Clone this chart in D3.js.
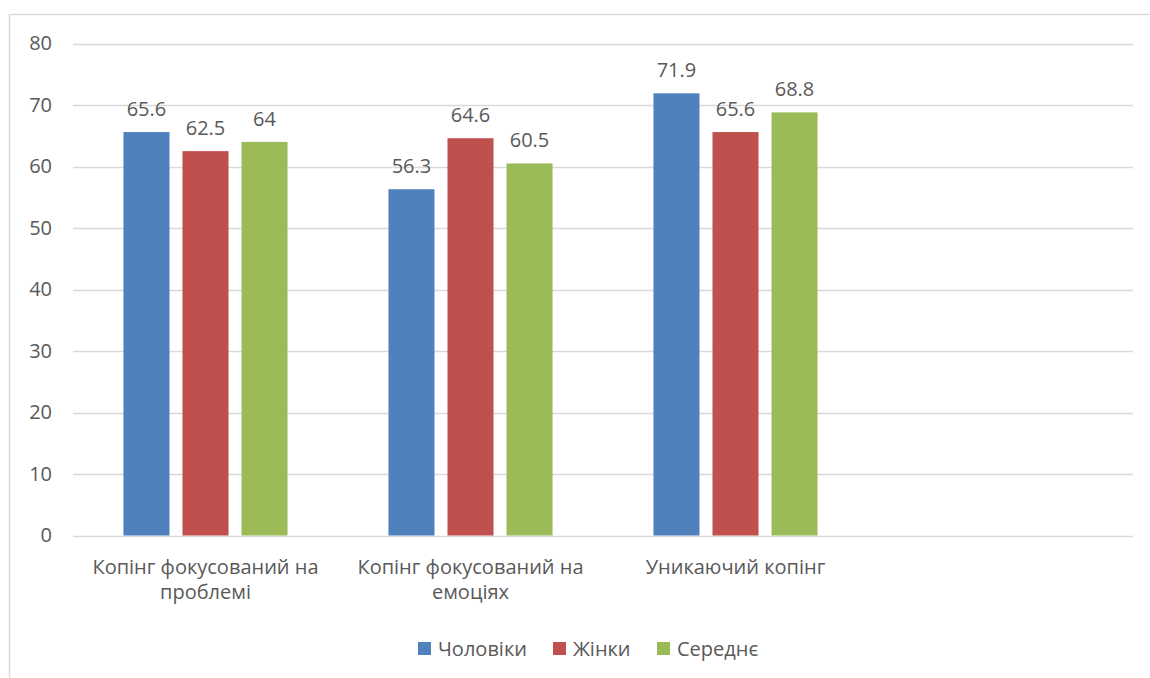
<!DOCTYPE html>
<html>
<head>
<meta charset="utf-8">
<script src="https://cdn.jsdelivr.net/npm/d3@7"></script>
<style>
  body { margin: 0; background: #fff; }
  text { font-family: "Open Sans", sans-serif; fill: #595959; }
</style>
</head>
<body>
<svg id="chart" width="1150" height="678"></svg>
<script>
// chart data
const categories = ["Копінг фокусований на проблемі", "Копінг фокусований на емоціях", "Уникаючий копінг", ""];
const tickLabels = [["Копінг фокусований на", "проблемі"], ["Копінг фокусований на", "емоціях"], ["Уникаючий копінг"], [""]];
const seriesNames = ["Чоловіки", "Жінки", "Середнє"];
const men = [65.6, 56.3, 71.9];
const women = [62.5, 64.6, 65.6];
const average = [64, 60.5, 68.8];
const yTicks = [0, 10, 20, 30, 40, 50, 60, 70, 80];

const colors = ["#4f81bd", "#c0504d", "#9bbb59"];
const seriesValues = [men, women, average];
const fontSize = "20px";

const svg = d3.select("#chart");

// outer frame
svg.append("path")
  .attr("d", "M9.5,678 V14.5 H1150")
  .attr("fill", "none")
  .attr("stroke", "#d9d9d9")
  .attr("stroke-width", 1.5);

const plotLeft = 73, plotRight = 1133, plotTop = 43.5, plotBottom = 535.5;

const x0 = d3.scaleBand()
  .domain(categories)
  .range([plotLeft, plotRight])
  .padding(0);

const x1 = d3.scaleBand()
  .domain(seriesNames)
  .range([0, x0.bandwidth()])
  .paddingInner(0.22)
  .paddingOuter(0.855);

const y = d3.scaleLinear()
  .domain([0, 80])
  .range([plotBottom, plotTop]);

// gridlines
svg.append("g")
  .selectAll("line")
  .data(yTicks)
  .enter()
  .append("line")
  .attr("x1", plotLeft)
  .attr("x2", plotRight)
  .attr("y1", d => Math.round(y(d)) + 0.5)
  .attr("y2", d => Math.round(y(d)) + 0.5)
  .attr("stroke", "#d9d9d9")
  .attr("stroke-width", 1.5);

// y axis labels
const yAxis = svg.append("g")
  .attr("transform", "translate(" + plotLeft + ",0)")
  .call(d3.axisLeft(y).tickValues(yTicks).tickSize(0).tickPadding(21));
yAxis.select(".domain").remove();
yAxis.selectAll("text")
  .style("font-family", "'Open Sans', sans-serif")
  .style("font-size", fontSize)
  .attr("fill", "#595959");

// bars
const rows = categories.slice(0, 3).map((c, i) => ({
  cat: c,
  vals: seriesNames.map((s, j) => ({ s: s, v: seriesValues[j][i], color: colors[j] }))
}));

const groups = svg.append("g")
  .selectAll("g")
  .data(rows)
  .enter()
  .append("g")
  .attr("transform", d => "translate(" + x0(d.cat) + ",0)");

groups.selectAll("rect")
  .data(d => d.vals)
  .enter()
  .append("rect")
  .attr("x", d => x1(d.s))
  .attr("y", d => y(d.v))
  .attr("width", x1.bandwidth())
  .attr("height", d => y(0) - y(d.v))
  .attr("fill", d => d.color);

groups.selectAll("text")
  .data(d => d.vals)
  .enter()
  .append("text")
  .attr("x", d => x1(d.s) + x1.bandwidth() / 2)
  .attr("y", d => y(d.v) - 16)
  .attr("text-anchor", "middle")
  .style("font-size", fontSize)
  .text(d => d.v);

// category labels
const xLabels = svg.append("g")
  .selectAll("text")
  .data(categories)
  .enter()
  .append("text")
  .attr("x", d => x0(d) + x0.bandwidth() / 2)
  .attr("y", 574)
  .attr("text-anchor", "middle")
  .style("font-size", fontSize);

xLabels.selectAll("tspan")
  .data((d, i) => tickLabels[i])
  .enter()
  .append("tspan")
  .attr("x", function () { return d3.select(this.parentNode).attr("x"); })
  .attr("dy", (d, i) => i === 0 ? 0 : 25)
  .text(d => d);

// legend
const legendX = [418, 553, 657];
const legend = svg.append("g")
  .selectAll("g")
  .data(seriesNames)
  .enter()
  .append("g")
  .attr("transform", (d, i) => "translate(" + legendX[i] + ",642)");

legend.append("rect")
  .attr("width", 13)
  .attr("height", 13)
  .attr("fill", (d, i) => colors[i]);

legend.append("text")
  .attr("x", 20)
  .attr("y", 14)
  .style("font-size", fontSize)
  .text(d => d);
</script>
</body>
</html>
